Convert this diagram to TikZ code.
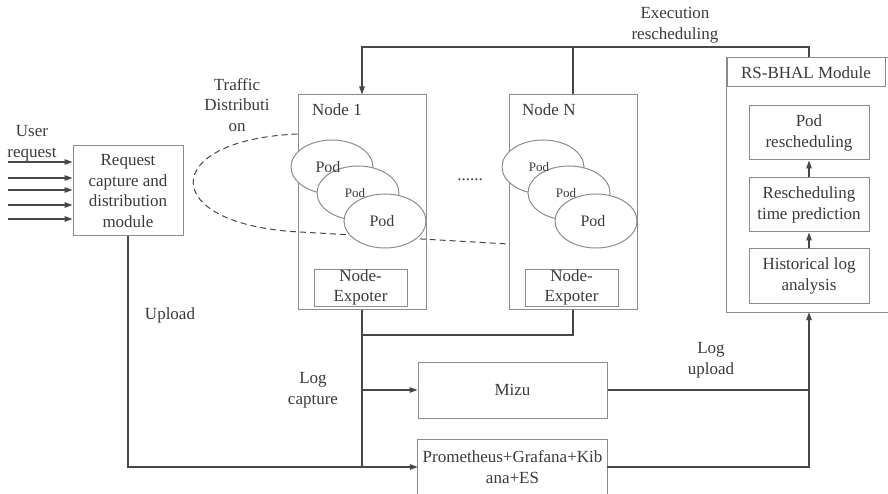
\documentclass[tikz,border=0pt]{standalone}
\usepackage{fontspec}
\setmainfont{Liberation Serif}
\newfontfamily\tnr{Liberation Serif}
\usetikzlibrary{arrows.meta,shapes.geometric,calc}
\definecolor{txt}{HTML}{3A3A3A}
\definecolor{boxc}{HTML}{8C8C8C}
\definecolor{linec}{HTML}{474747}
\begin{document}
\begin{tikzpicture}[x=1pt,y=-1pt,
  every node/.style={text=txt, font=\tnr\fontsize{17}{20.5}\selectfont, align=center},
  box/.style={draw=boxc, line width=1pt, rectangle, inner sep=0pt},
  conn/.style={draw=linec, line width=1.2pt},
  arr/.style={conn, -{Triangle[length=8pt,width=5.5pt]}},
  pod/.style={ellipse, draw=boxc, line width=1pt, fill=white, minimum width=82pt, minimum height=54pt, inner sep=0pt},
  bigpod/.style={inner sep=0pt, font=\tnr\fontsize{16}{18}\selectfont},
  smallpod/.style={inner sep=0pt, font=\tnr\fontsize{13}{15}\selectfont},
  lbl/.style={inner sep=0pt}]
\useasboundingbox (0,0) rectangle (888,494);

% main boxes
\node[box, minimum width=110pt, minimum height=90pt] (req) at (128,191) {Request\\capture and\\distribution\\module};
\node[box, minimum width=128pt, minimum height=214pt] (n1) at (362,202) {};
\node[box, minimum width=128pt, minimum height=214pt] (nN) at (573,202) {};
\node[lbl, anchor=base west] (n1t) at (312,116) {Node 1};
\node[lbl, anchor=base west] (nNt) at (522,116) {Node N};
\node[box, minimum width=93pt, minimum height=37pt] (ne1) at (360.5,287.5) {Node-\\Expoter};
\node[box, minimum width=93pt, minimum height=37pt] (neN) at (571.5,287.5) {Node-\\Expoter};
\node[box, minimum width=189pt, minimum height=56pt] (mizu) at (512.5,390) {Mizu};
\node[inner sep=0pt, minimum width=189pt, minimum height=54pt] (prom) at (512.5,467) {Prometheus+Grafana+Kib\\ana+ES};
\draw[draw=boxc, line width=1pt] (prom.south west) -- (prom.north west) -- (prom.north east) -- (prom.south east);

% RS-BHAL module
\node[inner sep=0pt, minimum width=161pt, minimum height=254pt] (rs) at (807.5,185) {};
\draw[draw=boxc, line width=1pt] (rs.north east) -- (rs.north west) -- (rs.south west) -- (rs.south east);
\node[box, minimum width=158pt, minimum height=29pt] (hd) at (806,72.5) {RS-BHAL Module};
\node[box, minimum width=120pt, minimum height=54pt] (pr) at (809,133) {Pod\\rescheduling};
\node[box, minimum width=120pt, minimum height=54pt] (rtp) at (809,205) {Rescheduling\\time prediction};
\node[box, minimum width=120pt, minimum height=54pt] (hla) at (809,276) {Historical log\\analysis};
\draw[arr] (hla.north) -- (rtp.south);
\draw[arr] (rtp.north) -- (pr.south);

% traffic distribution (dashed)
\draw[draw=linec, line width=1pt, dash pattern=on 6pt off 4pt]
  (n1.west |- 0,134) .. controls (158,140) and (158,225) .. (300,232) -- (nN.west |- 0,244);

% pods
\node[pod] (p11) at (332,167) {};
\node[pod] (p12) at (358,193) {};
\node[pod] (p13) at (385,221) {};
\node[pod] (pN1) at (543,167) {};
\node[pod] (pN2) at (569,193) {};
\node[pod] (pN3) at (596,221) {};
\node[bigpod] (l11) at (328,167) {Pod};
\node[smallpod] (l12) at (355,193) {Pod};
\node[bigpod] (l13) at (382,221) {Pod};
\node[smallpod] (lN1) at (539,167) {Pod};
\node[smallpod] (lN2) at (566,193) {Pod};
\node[bigpod] (lN3) at (593,221) {Pod};
\node[lbl, anchor=base] (dots) at (470,181) {......};

% user requests
\foreach \yy [count=\i] in {162,178,190,205,219} {
  \coordinate (u\i) at (8,\yy);
  \draw[arr] (u\i) -- (u\i -| req.west);
}

% execution rescheduling
\coordinate (top) at (573,47);
\draw[conn] (nN.north) -- (top);
\draw[arr] (hd.north -| pr.north) |- (top) -| (n1.north);

% log capture / upload
\coordinate (jn) at (362,335);
\draw[arr] (req.south) |- (prom.west);
\draw[conn] (n1.south) -- (n1.south |- prom.west);
\draw[conn] (nN.south) |- (jn);
\draw[arr] (n1.south |- mizu.west) -- (mizu.west);
\draw[conn] (mizu.east) -- (mizu.east -| hla.south);
\draw[arr] (prom.east) -| (hla.south |- rs.south);

% labels
\node (usr) at (32,143) {User\\request};
\node (upl) at (170,315) {Upload};
\node (lc) at (313,390) {Log\\capture};
\node (lu) at (711,360) {Log\\upload};
\node (ex) at (675,25) {Execution\\rescheduling};
\node (tr) at (237,105) {Traffic\\Distributi\\on};
\end{tikzpicture}
\end{document}
